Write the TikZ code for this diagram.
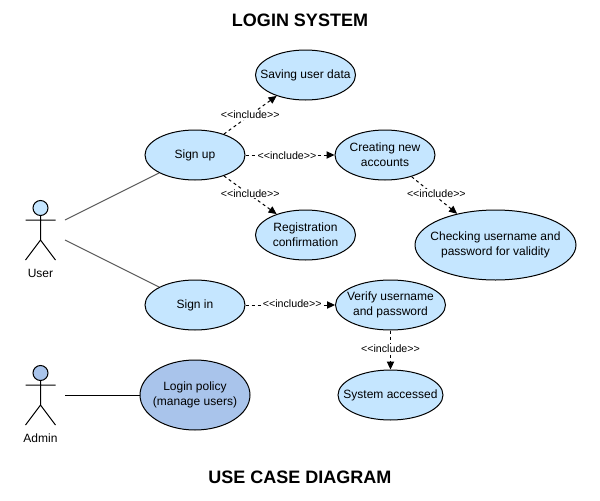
\documentclass[tikz,border=0pt]{standalone}
\usepackage{fontspec}
\setmainfont{Liberation Sans}
\usetikzlibrary{shapes.geometric,arrows.meta}
\definecolor{usecaseblue}{HTML}{C5E6FF}
\definecolor{adminblue}{HTML}{A9C4EB}
\definecolor{assocgray}{HTML}{595959}
\tikzset{
  usecase/.style={shape=ellipse, draw=black, line width=0.75pt, fill=usecaseblue, align=center, inner xsep=-30pt, inner ysep=0pt, font=\fontsize{9}{11.25}\selectfont},
  inclabel/.style={fill=white, inner sep=0.5pt, yshift=1.2pt, font=\fontsize{8}{9}\selectfont},
  title/.style={font=\fontsize{13.5}{16}\selectfont\bfseries},
  pics/actor/.style 2 args={code={
    \node[shape=circle, draw=black, line width=0.75pt, fill=#1, minimum size=11.25pt, inner sep=0pt] (-head) at (0,0) {};
    \draw[line width=0.75pt] (-head.south) -- (0,32) (-15,12) -- (15,12) (-15,52) -- (0,32) -- (15,52);
    \node[font=\fontsize{9}{11}\selectfont] (-label) at (0,65) {#2};
  }}
}
\begin{document}
\begin{tikzpicture}[x=0.75pt, y=-0.75pt]
\useasboundingbox (0,0) rectangle (600,500);
\node[title] (top) at (300,20) {LOGIN SYSTEM};
\node[title] (bottom) at (300,477) {USE CASE DIAGRAM};
% actors
\pic (user) at (40.5,208) {actor={usecaseblue}{User}};
\pic (admin) at (40.5,373) {actor={adminblue}{Admin}};
\coordinate (user1) at (65,220);
\coordinate (user2) at (65,240);
\coordinate (admin1) at (65,395);
% use cases
\node[usecase, minimum width=75pt, minimum height=37.5pt] (signup) at (195,155) {Sign up};
\node[usecase, minimum width=75pt, minimum height=37.5pt] (signin) at (195,305) {Sign in};
\node[usecase, minimum width=75pt, minimum height=37.5pt] (saving) at (305.5,75) {Saving user data};
\node[usecase, minimum width=75pt, minimum height=37.5pt] (creating) at (385,155) {Creating new\\accounts};
\node[usecase, minimum width=75pt, minimum height=37.5pt] (confirm) at (305.5,235) {Registration\\confirmation};
\node[usecase, minimum width=120.75pt, minimum height=52.5pt] (checking) at (495.5,245) {Checking username and\\password for validity};
\node[usecase, minimum width=82.5pt, minimum height=37.5pt] (verify) at (390.5,305) {Verify username\\and password};
\node[usecase, minimum width=78.75pt, minimum height=37.5pt] (accessed) at (390.5,395) {System accessed};
\node[usecase, fill=adminblue, minimum width=82.5pt, minimum height=52.5pt] (policy) at (195,395) {Login policy\\(manage users)};
% associations
\path [-, line width=0.75pt, draw=assocgray] (user1) edge (signup);
\path [-, line width=0.75pt, draw=assocgray] (user2) edge (signin);
\path [-, line width=0.75pt, draw=black] (admin1) edge (policy);
% includes
\path [-{Triangle[length=6pt,width=5.5pt]}, line width=0.75pt, dash pattern=on 2.25pt off 2.25pt, draw=black] (signup) edge node[inclabel, yshift=-1.2pt] (l1) {<{}<include>{}>} (saving);
\path [-{Triangle[length=6pt,width=5.5pt]}, line width=0.75pt, dash pattern=on 2.25pt off 2.25pt, draw=black] (signup) edge node[inclabel, xshift=-2.25pt, yshift=-2pt] (l2) {<{}<include>{}>} (creating);
\path [-{Triangle[length=6pt,width=5.5pt]}, line width=0.75pt, dash pattern=on 2.25pt off 2.25pt, draw=black] (signup) edge node[inclabel] (l3) {<{}<include>{}>} (confirm);
\path [-{Triangle[length=6pt,width=5.5pt]}, line width=0.75pt, dash pattern=on 2.25pt off 2.25pt, draw=black] (creating) edge node[inclabel, xshift=1.5pt] (l4) {<{}<include>{}>} (checking);
\path [-{Triangle[length=6pt,width=5.5pt]}, line width=0.75pt, dash pattern=on 2.25pt off 2.25pt, draw=black] (signin) edge node[inclabel, xshift=1.5pt] (l5) {<{}<include>{}>} (verify);
\path [-{Triangle[length=6pt,width=5.5pt]}, line width=0.75pt, dash pattern=on 2.25pt off 2.25pt, draw=black] (verify) edge node[inclabel] (l6) {<{}<include>{}>} (accessed);
\end{tikzpicture}
\end{document}
